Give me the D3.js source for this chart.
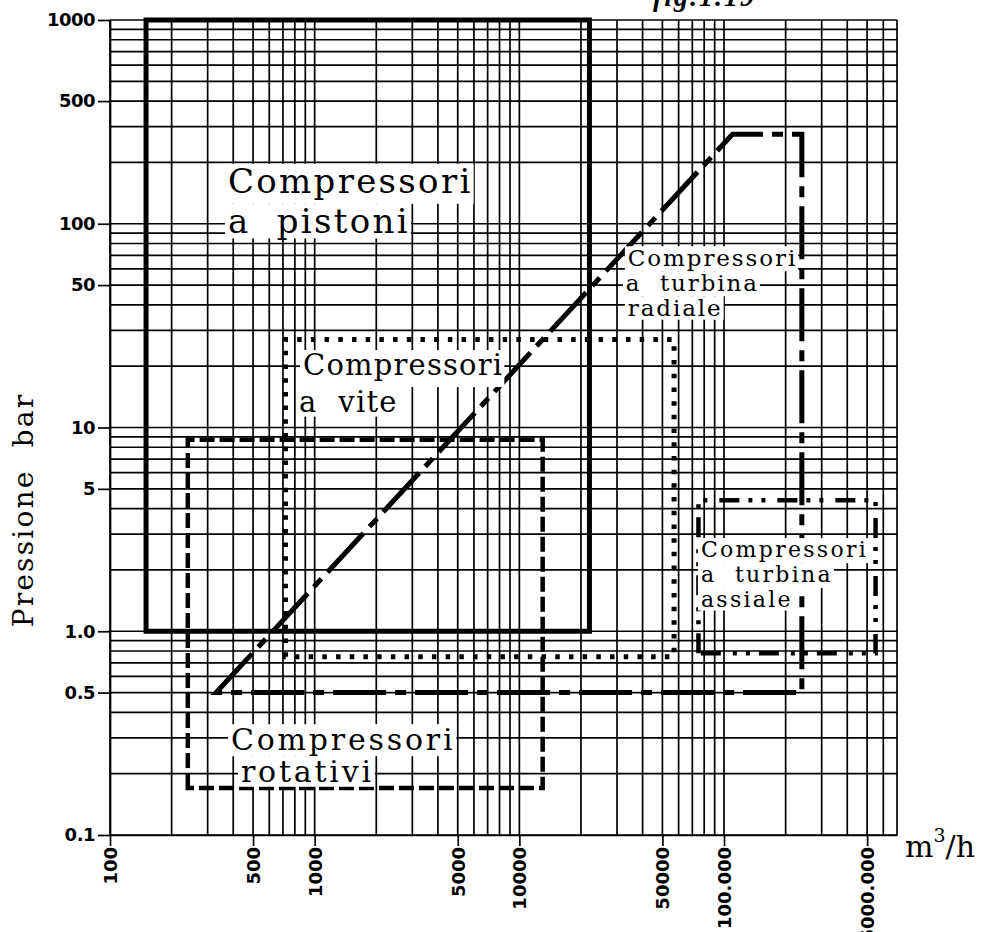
<!DOCTYPE html>
<html>
<head>
<meta charset="utf-8">
<script src="https://cdn.jsdelivr.net/npm/d3@7"></script>
<style>
  html, body { margin: 0; padding: 0; background: #fff; }
  svg { display: block; }
  text { white-space: pre; }
</style>
</head>
<body>
<svg id="chart" width="1000" height="932"></svg>
<script>
// Operating fields of compressor families: flow rate (m3/h) vs pressure (bar)

// Outline vertices of each field, [flow m3/h, pressure bar]
const pistoni        = [[150, 1], [150, 1000], [22000, 1000], [22000, 1]];
const vite           = [[720, 0.75], [720, 27], [57000, 27], [57000, 0.75]];
const rotativi       = [[240, 0.17], [240, 8.7], [13000, 8.7], [13000, 0.17]];
const turbinaRadiale = [[330, 0.5], [110000, 275], [240000, 275], [240000, 0.5]];
const turbinaAssiale = [[75000, 0.78], [75000, 4.4], [550000, 4.4], [550000, 0.78]];

// Field names, one entry per text line
const nomePistoni  = ["Compressori", "a\u00A0 pistoni"];
const nomeVite     = ["Compressori", "a\u00A0 vite"];
const nomeRotativi = ["Compressori", "rotativi"];
const nomeRadiale  = ["Compressori", "a\u00A0 turbina", "radiale"];
const nomeAssiale  = ["Compressori", "a\u00A0 turbina", "assiale"];

// Axis ticks
const xTickValues = [100, 500, 1000, 5000, 10000, 50000, 100000, 500000];
const xTickLabels = ["100", "500", "1000", "5000", "10000", "50000", "100.000", "5000.000"];
const yTickValues = [0.1, 0.5, 1, 5, 10, 50, 100, 400, 1000];
const yTickLabels = ["0.1", "0.5", "1.0", "5", "10", "50", "100", "500", "1000"];

const svg = d3.select("#chart");
svg.append("rect").attr("width", 1000).attr("height", 932).attr("fill", "#fff");

const x = d3.scaleLog().domain([100, 700000]).range([110, 897]);
const y = d3.scaleLog().domain([0.1, 1000]).range([835, 20]);

// log grid: every 1..9 multiple of each decade
const grid = svg.append("g").attr("stroke", "#000").attr("stroke-width", 1.7);
grid.selectAll("line.v").data(x.ticks()).join("line")
  .attr("class", "v")
  .attr("x1", d => x(d)).attr("x2", d => x(d))
  .attr("y1", y.range()[0]).attr("y2", y.range()[1]);
grid.selectAll("line.h").data(y.ticks()).join("line")
  .attr("class", "h")
  .attr("y1", d => y(d)).attr("y2", d => y(d))
  .attr("x1", x.range()[0]).attr("x2", x.range()[1]);

// field outlines
const line = d3.line().x(d => x(d[0])).y(d => y(d[1])).curve(d3.curveLinearClosed);
const fields = [
  { pts: rotativi,       dash: "15,5",            w: 4.5 },
  { pts: vite,           dash: "4.5,9.2",         w: 5 },
  { pts: turbinaAssiale, dash: "20,9,4,9,4,12",   w: 4.5 },
  { pts: turbinaRadiale, dash: "53,9,11,9",       w: 5 },
  { pts: pistoni,        dash: null,              w: 5 }
];
svg.append("g").selectAll("path").data(fields).join("path")
  .attr("d", d => line(d.pts))
  .attr("fill", "none")
  .attr("stroke", "#000")
  .attr("stroke-width", d => d.w)
  .attr("stroke-linejoin", "miter")
  .attr("stroke-dasharray", d => d.dash);

// field names on white boxes
const labels = [
  { lines: nomePistoni,  at: [377, 141.5],  size: 34, ls: 2.3, lh: 40, indent: [0, 0] },
  { lines: nomeVite,     at: [877, 18.1],   size: 29, ls: 1.2, lh: 37, indent: [0, -4] },
  { lines: nomeRotativi, at: [390, 0.2614], size: 30, ls: 2.8, lh: 32, indent: [0, 10] },
  { lines: nomeRadiale,  at: [33900, 62],   size: 23, ls: 1.9, lh: 25, indent: [0, -2, 0] },
  { lines: nomeAssiale,  at: [77100, 2.314],size: 22, ls: 2.3, lh: 25, indent: [0, 0, 0] }
];
labels.forEach(lab => {
  const g = svg.append("g");
  const x0 = x(lab.at[0]), y0 = y(lab.at[1]);
  lab.lines.forEach((t, i) => {
    const base = y0 + i * lab.lh;
    const rect = g.append("rect").attr("fill", "#fff");
    const txt = g.append("text")
      .attr("x", x0 + lab.indent[i]).attr("y", base)
      .attr("font-family", "DejaVu Serif")
      .attr("font-size", lab.size)
      .attr("letter-spacing", lab.ls)
      .attr("fill", "#000")
      .text(t);
    const bb = txt.node().getBBox();
    const top = base - lab.size * 0.86;
    const bottom = i < lab.lines.length - 1 ? base + lab.lh - lab.size * 0.86 : base + lab.size * 0.16;
    rect.attr("x", bb.x - 3).attr("width", bb.width + 4)
      .attr("y", top).attr("height", bottom - top);
  });
});

// axes
const fontAxis = "DejaVu Sans";
const yAxis = svg.append("g").attr("transform", `translate(${x.range()[0]},0)`)
  .call(d3.axisLeft(y).tickValues(yTickValues)
    .tickFormat((d, i) => yTickLabels[i]).tickSize(12).tickSizeOuter(0).tickPadding(3));
yAxis.selectAll("path, line").attr("stroke", "#000").attr("stroke-width", 1.7);
yAxis.selectAll("text").attr("font-family", fontAxis).attr("font-weight", "bold")
  .attr("font-size", 18).attr("letter-spacing", -0.5).attr("fill", "#000");

const xAxis = svg.append("g").attr("transform", `translate(0,${y.range()[0]})`)
  .call(d3.axisBottom(x).tickValues(xTickValues)
    .tickFormat((d, i) => xTickLabels[i]).tickSize(11).tickSizeOuter(0));
xAxis.selectAll("path, line").attr("stroke", "#000").attr("stroke-width", 1.7);
xAxis.selectAll("text")
  .attr("font-family", fontAxis).attr("font-size", 18).attr("font-weight", "bold")
  .attr("fill", "#000")
  .attr("transform", "rotate(-90)")
  .attr("text-anchor", "end")
  .attr("x", -12).attr("y", 0).attr("dy", "0.36em");

// axis titles
svg.append("text")
  .attr("transform", "translate(33,510) rotate(-90)")
  .attr("text-anchor", "middle")
  .attr("font-family", "DejaVu Serif").attr("font-size", 28)
  .attr("letter-spacing", 2.2).attr("fill", "#000")
  .text("Pressione\u00A0 bar");

const unit = svg.append("text")
  .attr("x", 905).attr("y", 857)
  .attr("font-family", "DejaVu Serif").attr("font-size", 30).attr("fill", "#000");
unit.append("tspan").text("m");
unit.append("tspan").attr("font-size", 19).attr("dy", -15).text("3");
unit.append("tspan").attr("dy", 15).text("/h");

// figure number at the top edge
svg.append("text")
  .attr("x", 653).attr("y", 6)
  .attr("font-family", "Liberation Serif").attr("font-style", "italic")
  .attr("font-weight", "bold").attr("font-size", 28).attr("letter-spacing", 2)
  .attr("fill", "#000")
  .text("fig.1.19");
</script>
</body>
</html>
